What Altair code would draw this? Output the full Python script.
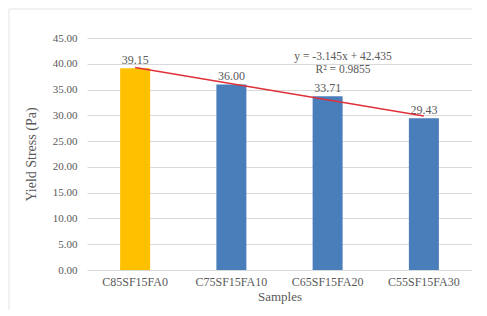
import altair as alt
import pandas as pd
import numpy as np

samples = ["C85SF15FA0", "C75SF15FA10", "C65SF15FA20", "C55SF15FA30"]
values = [39.15, 36.00, 33.71, 29.43]
colors = ["#FFC000", "#4A7EBB", "#4A7EBB", "#4A7EBB"]
y_ticks = [0, 5, 10, 15, 20, 25, 30, 35, 40, 45]

idx = list(range(1, len(samples) + 1))
df = pd.DataFrame({"sample": samples, "value": values, "color": colors, "idx": idx})

slope, intercept = np.polyfit(idx, values, 1)
pred = np.polyval([slope, intercept], idx)
r2 = 1 - np.sum((np.array(values) - pred) ** 2) / np.sum((np.array(values) - np.mean(values)) ** 2)
eq_lines = [f"y = {slope:.3f}x + {intercept:.3f}", f"R\u00b2 = {r2:.4f}"]
eq_df = pd.DataFrame({"t": eq_lines, "xi": [3.16, 3.16], "yv": [41.35, 38.85]})

FONT = "Liberation Serif"
GRAY = "#595959"

yscale = alt.Scale(domain=[0, 45], nice=False)
xband = alt.Scale(paddingInner=0.1, paddingOuter=0.05)
yaxis = alt.Axis(values=y_ticks, format=".2f", ticks=False, domain=False,
                 grid=True, gridColor="#d9d9d9", labelFontSize=11,
                 titleFontSize=14, labelOverlap=False,
                 labelPadding=10, titlePadding=14, labelColor=GRAY,
                 titleColor=GRAY, labelFont=FONT, titleFont=FONT,
                 titleFontWeight="normal")
YT = "Yield Stress (Pa)"

bars = alt.Chart(df).mark_bar(size=30).encode(
    x=alt.X("sample:N", sort=samples, title="Samples", scale=xband,
            axis=alt.Axis(labelAngle=0, ticks=False, domain=False, labelFontSize=12,
                          titleFontSize=13, labelPadding=6, titlePadding=3,
                          labelColor=GRAY, titleColor=GRAY, labelFont=FONT,
                          titleFont=FONT, titleFontWeight="normal")),
    y=alt.Y("value:Q", scale=yscale, title=YT, axis=yaxis),
    color=alt.Color("color:N", scale=None),
)

labels = alt.Chart(df).mark_text(dy=-8, font=FONT, fontSize=12, color=GRAY).encode(
    x=alt.X("sample:N", sort=samples, scale=xband, axis=None),
    y=alt.Y("value:Q", scale=yscale, title=YT, axis=yaxis),
    text=alt.Text("value:Q", format=".2f"),
)

xq = alt.Scale(domain=[0.5, 4.5], nice=False, zero=False)

trend = alt.Chart(df).transform_regression("idx", "value", extent=[1, 4]).mark_line(
    color="#E0303A", strokeWidth=1.5
).encode(
    x=alt.X("idx:Q", scale=xq, axis=None),
    y=alt.Y("value:Q", scale=yscale, title=YT, axis=yaxis),
)

eq = alt.Chart(eq_df).mark_text(font=FONT, fontSize=11.5, color=GRAY).encode(
    x=alt.X("xi:Q", scale=xq, axis=None),
    y=alt.Y("yv:Q", scale=yscale, title=YT, axis=yaxis),
    text="t:N",
)

border = alt.Chart(df.head(1)).mark_rect(fill=None, stroke="#e3e3e3", strokeWidth=1).encode(
    x=alt.value(-78), x2=alt.value(392), y=alt.value(-29), y2=alt.value(274)
)

chart = alt.layer(border, bars, labels, trend, eq).resolve_scale(x="independent").properties(
    width=385, height=232,
    autosize=alt.AutoSizeParams(type="none"),
    padding={"left": 79, "top": 30, "right": 0, "bottom": 40},
).configure_view(stroke=None)

chart.save("out.html", embed_options={"renderer": "svg", "actions": False})
